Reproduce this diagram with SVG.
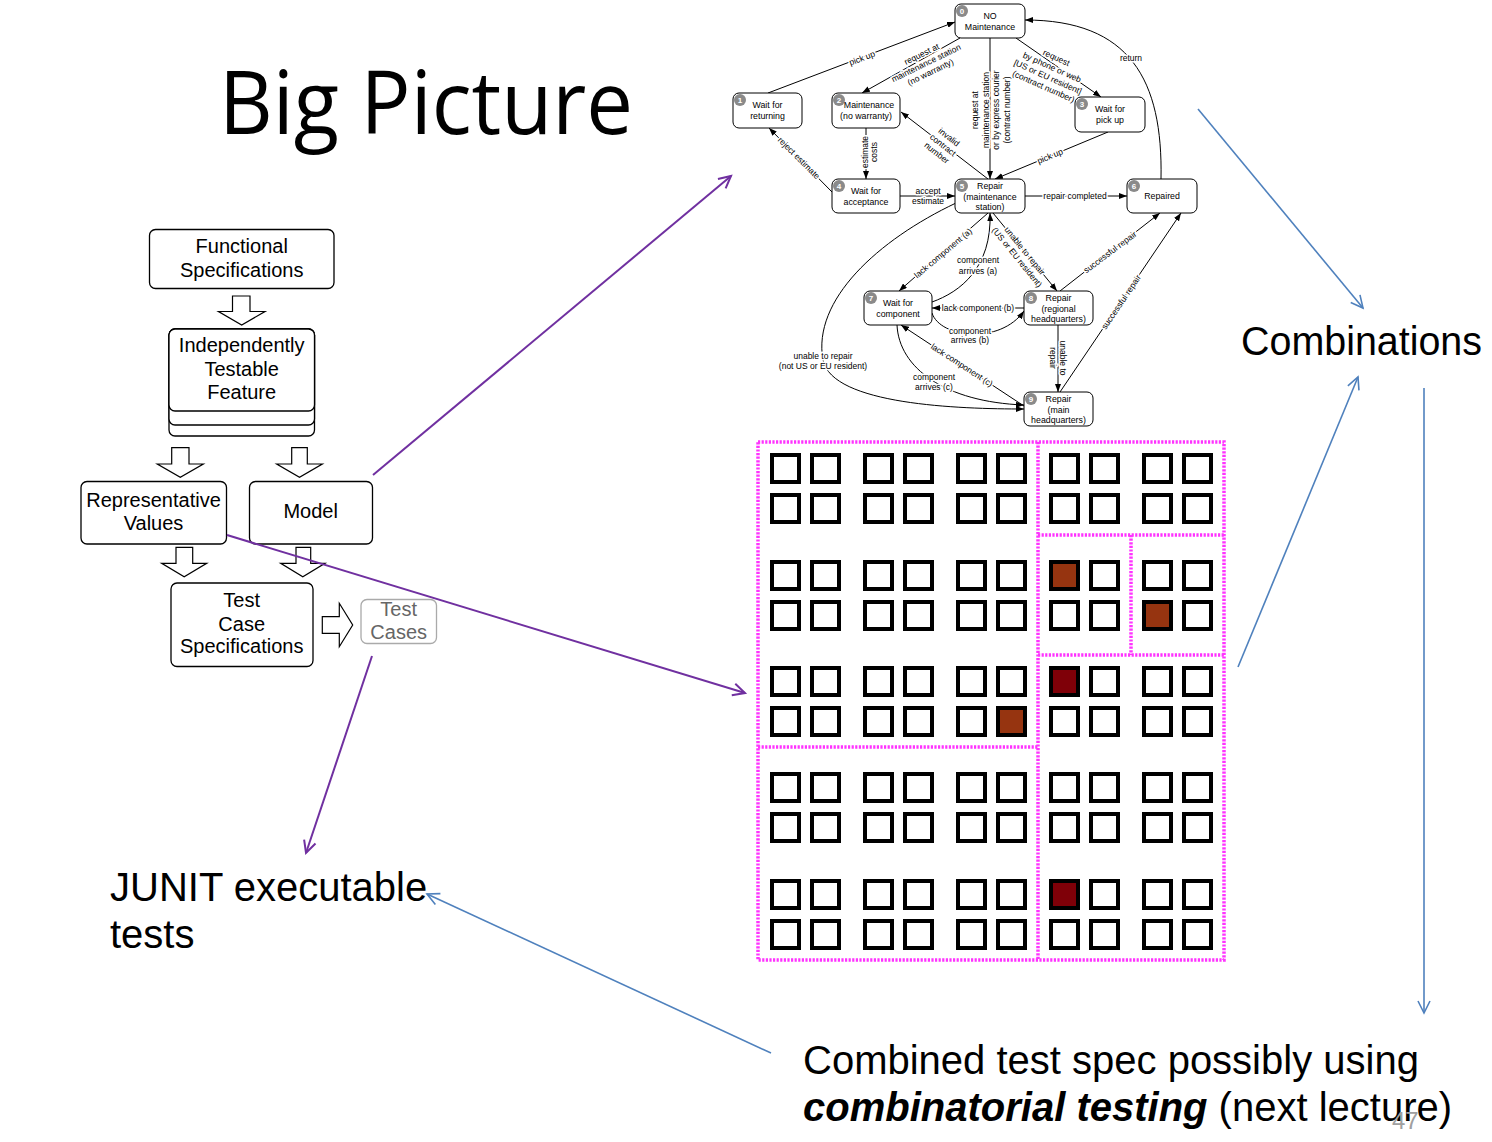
<svg xmlns="http://www.w3.org/2000/svg" width="1492" height="1142" viewBox="0 0 1492 1142">
<style>
.sb{fill:#fff;stroke:#000;stroke-width:1}
.st{font-family:"Liberation Sans",Arial,sans-serif;font-size:8.8px;text-anchor:middle;fill:#000}
.nc{fill:#8a8a8a}
.nn{font-family:"Liberation Sans",Arial,sans-serif;font-size:8px;font-weight:bold;text-anchor:middle;fill:#fff}
.lbl{font-family:"Liberation Sans",Arial,sans-serif;font-size:8.5px;text-anchor:middle;fill:#000;stroke:#fff;stroke-width:3px;paint-order:stroke;stroke-linejoin:round}
.e{fill:none;stroke:#000;stroke-width:1;marker-end:url(#ah)}
.fb{fill:#fff;stroke:#000;stroke-width:1.3}
.ft{font-family:"Liberation Sans",Arial,sans-serif;font-size:20px;text-anchor:middle;fill:#000}
.ba{fill:#fff;stroke:#000;stroke-width:1.2}
.dot{fill:none;stroke:#f3f;stroke-width:3.5;stroke-dasharray:2.2 1.4}
.pu{stroke:#7030A0;stroke-width:2;fill:none;marker-end:url(#ap)}
.bl{stroke:#4F81BD;stroke-width:1.6;fill:none;marker-end:url(#ab)}
.big{font-family:"Liberation Sans",Arial,sans-serif;font-size:40px;fill:#000}
</style>
<defs>
<marker id="ah" viewBox="0 0 8 6" refX="8" refY="3" markerWidth="8" markerHeight="6" markerUnits="userSpaceOnUse" orient="auto"><path d="M0,0 L8,3 L0,6 Z" fill="#000"/></marker>
<marker id="ap" viewBox="-14 -8 16 16" refX="0" refY="0" markerWidth="16" markerHeight="16" markerUnits="userSpaceOnUse" orient="auto" overflow="visible"><path d="M-12,-6 L0,0 L-12,6" fill="none" stroke="#7030A0" stroke-width="2"/></marker>
<marker id="ab" viewBox="-14 -8 16 16" refX="0" refY="0" markerWidth="16" markerHeight="16" markerUnits="userSpaceOnUse" orient="auto" overflow="visible"><path d="M-12,-6 L0,0 L-12,6" fill="none" stroke="#4F81BD" stroke-width="1.6"/></marker>
<rect id="sq" width="27" height="27" stroke="#000" stroke-width="4"/>
</defs>
<rect width="1492" height="1142" fill="#fff"/>

<text x="219" y="134" font-family="Open Sans, sans-serif" font-size="87" textLength="414" lengthAdjust="spacingAndGlyphs" fill="#000">Big Picture</text>

<!-- Left flowchart -->
<g id="functional-spec"><rect class="fb" x="149.5" y="229.5" width="184.5" height="59" rx="6"/><text class="ft" x="241.7" y="253">Functional</text><text class="ft" x="241.7" y="276.5">Specifications</text></g>
<g id="arrow-fs"><path class="ba" d="M232.5,296 H250 V311.5 H265 L241.7,325 L218.5,311.5 H232.5 Z"/></g>
<g id="itf"><rect class="fb" x="169" y="329" width="145.5" height="107" rx="6"/><rect class="fb" x="169" y="329" width="145.5" height="96" rx="6"/><rect class="fb" x="169" y="329" width="145.5" height="82" rx="6"/><text class="ft" x="241.7" y="352.3">Independently</text><text class="ft" x="241.7" y="375.7">Testable</text><text class="ft" x="241.7" y="399">Feature</text></g>
<g id="arrow-itf-rv"><path class="ba" d="M171.7,447.7 H189 V464 H203.3 L180.3,477.3 L157.3,464 H171.7 Z"/></g>
<g id="arrow-itf-model"><path class="ba" d="M291.7,447.7 H307.3 V464 H322.3 L299.5,477.3 L276.7,464 H291.7 Z"/></g>
<g id="rep-values"><rect class="fb" x="81" y="481.5" width="145.5" height="62.5" rx="6"/><text class="ft" x="153.5" y="507.3">Representative</text><text class="ft" x="153.5" y="530">Values</text></g>
<g id="model"><rect class="fb" x="249.5" y="481.5" width="123" height="62.5" rx="6"/><text class="ft" x="310.7" y="518.3">Model</text></g>
<g id="arrow-rv-tcs"><path class="ba" d="M176,547.3 H192.7 V563.3 H206.7 L184.2,576.7 L161.7,563.3 H176 Z"/></g>
<g id="arrow-model-tcs"><path class="ba" d="M296,547.3 H310.7 V563.3 H325 L302.8,576.7 L280.7,563.3 H296 Z"/></g>
<g id="tcs"><rect class="fb" x="171" y="583" width="142" height="83.5" rx="6"/><text class="ft" x="241.7" y="607.3">Test</text><text class="ft" x="241.7" y="630.7">Case</text><text class="ft" x="241.7" y="653.3">Specifications</text></g>
<g id="arrow-tcs-tc"><path class="ba" d="M322.3,616.7 H339.3 V603.3 L352.7,625 L339.3,646.7 V633.3 H322.3 Z"/></g>
<g id="test-cases"><rect x="361" y="599.5" width="75.5" height="44" rx="6" fill="#fff" stroke="#aaa" stroke-width="1.3"/><text class="ft" x="398.7" y="615.7" style="fill:#666">Test</text><text class="ft" x="398.7" y="639" style="fill:#666">Cases</text></g>

<!-- State machine connectors -->
<g id="sm-edges">
<path class="e" d="M768,93 L955,22"/>
<path class="e" d="M960,38 L862,93"/>
<path class="e" d="M990,38 L990,179"/>
<path class="e" d="M1016,38 L1101,97"/>
<path class="e" d="M1161,179 C1163,80 1130,20 1025,20"/>
<path class="e" d="M1108,132 L995,179"/>
<path class="e" d="M988,179 L901,112"/>
<path class="e" d="M866,128 L866,179"/>
<path class="e" d="M832,192 L769,128"/>
<path class="e" d="M900,196 L955,196"/>
<path class="e" d="M1025,196 L1127,196"/>
<path class="e" d="M988,213 L899,291"/>
<path class="e" d="M932,302 C960,292 992,268 990,213"/>
<path class="e" d="M993,213 L1057,291"/>
<path class="e" d="M1024,308 L932,308"/>
<path class="e" d="M932,313 C940,338 1000,345 1024,311"/>
<path class="e" d="M1060,291 L1160,213"/>
<path class="e" d="M1058,325 L1058,392"/>
<path class="e" d="M1060,392 L1181,213"/>
<path class="e" d="M1024,406 L901,325"/>
<path class="e" d="M897,325 C899,368 945,402 1024,405"/>
<path class="e" d="M956,203 C878,240 812,300 823,360 C832,405 960,409 1024,409"/>

<text class="lbl" transform="translate(862,58) rotate(-20.7)" y="3">pick up</text>
<text class="lbl" transform="translate(926,63) rotate(-26)"><tspan x="0" y="-7">request at</tspan><tspan x="0" y="3">maintenance station</tspan><tspan x="0" y="13">(no warranty)</tspan></text>
<text class="lbl" transform="translate(991,110) rotate(-90)"><tspan x="0" y="-12.75">request at</tspan><tspan x="0" y="-2.25">maintenance station</tspan><tspan x="0" y="8.25">or by express courier</tspan><tspan x="0" y="18.75">(contract number)</tspan></text>
<text class="lbl" transform="translate(1050,72) rotate(24)"><tspan x="0" y="-12.75">request</tspan><tspan x="0" y="-2.25">by phone or web</tspan><tspan x="0" y="8.25">[US or EU resident]</tspan><tspan x="0" y="18.75">(contract number)</tspan></text>
<text class="lbl" x="1131" y="61">return</text>
<text class="lbl" transform="translate(1050,156) rotate(-22.6)" y="3">pick up</text>
<text class="lbl" transform="translate(943,145) rotate(38)"><tspan x="0" y="-7">invalid</tspan><tspan x="0" y="3">contract</tspan><tspan x="0" y="13">number</tspan></text>
<text class="lbl" transform="translate(869,152) rotate(-90)"><tspan x="0" y="-1.5">estimate</tspan><tspan x="0" y="7.5">costs</tspan></text>
<text class="lbl" transform="translate(799,158) rotate(45)" y="3">reject estimate</text>
<text class="lbl"><tspan x="928" y="194">accept</tspan><tspan x="928" y="204">estimate</tspan></text>
<text class="lbl" x="1075" y="199">repair completed</text>
<text class="lbl" transform="translate(943,253) rotate(-40)" y="3">lack component (a)</text>
<text class="lbl"><tspan x="978" y="263">component</tspan><tspan x="978" y="274">arrives (a)</tspan></text>
<text class="lbl" transform="translate(1021,254) rotate(51)"><tspan x="0" y="-2">unable to repair</tspan><tspan x="0" y="8">(US or EU resident)</tspan></text>
<text class="lbl" x="978" y="311">lack component (b)</text>
<text class="lbl"><tspan x="970" y="334">component</tspan><tspan x="970" y="343">arrives (b)</tspan></text>
<text class="lbl" transform="translate(1110,252) rotate(-37)" y="3">successful repair</text>
<text class="lbl" transform="translate(1058,358) rotate(90)"><tspan x="0" y="-2">unable to</tspan><tspan x="0" y="8">repair</tspan></text>
<text class="lbl" transform="translate(1121,302) rotate(-56)" y="3">successful repair</text>
<text class="lbl" transform="translate(962,365) rotate(33)" y="3">lack component (c)</text>
<text class="lbl"><tspan x="934" y="380">component</tspan><tspan x="934" y="390">arrives (c)</tspan></text>
<text class="lbl"><tspan x="823" y="359">unable to repair</tspan><tspan x="823" y="369">(not US or EU resident)</tspan></text>
</g>

<!-- State machine nodes -->
<g id="s0"><rect class="sb" x="955" y="4" width="70" height="34" rx="6"/><circle class="nc" cx="962" cy="11" r="6"/><text class="nn" x="962" y="14">0</text><text class="st" x="990" y="18.5">NO</text><text class="st" x="990" y="29.5">Maintenance</text></g>
<g id="s1"><rect class="sb" x="733" y="93" width="69" height="35" rx="6"/><circle class="nc" cx="740" cy="100" r="6"/><text class="nn" x="740" y="103">1</text><text class="st" x="767.5" y="108">Wait for</text><text class="st" x="767.5" y="119">returning</text></g>
<g id="s2"><rect class="sb" x="832" y="93" width="68" height="35" rx="6"/><circle class="nc" cx="839" cy="100" r="6"/><text class="nn" x="839" y="103">2</text><text class="st" x="869" y="108">Maintenance</text><text class="st" x="866" y="119">(no warranty)</text></g>
<g id="s3"><rect class="sb" x="1075" y="97" width="70" height="35" rx="6"/><circle class="nc" cx="1082" cy="104" r="6"/><text class="nn" x="1082" y="107">3</text><text class="st" x="1110" y="112">Wait for</text><text class="st" x="1110" y="123">pick up</text></g>
<g id="s4"><rect class="sb" x="832" y="179" width="68" height="34" rx="6"/><circle class="nc" cx="839" cy="186" r="6"/><text class="nn" x="839" y="189">4</text><text class="st" x="866" y="194">Wait for</text><text class="st" x="866" y="205">acceptance</text></g>
<g id="s5"><rect class="sb" x="955" y="179" width="70" height="34" rx="6"/><circle class="nc" cx="962" cy="186" r="6"/><text class="nn" x="962" y="189">5</text><text class="st" x="990" y="189">Repair</text><text class="st" x="990" y="199.5">(maintenance</text><text class="st" x="990" y="210">station)</text></g>
<g id="s6"><rect class="sb" x="1127" y="179" width="70" height="34" rx="6"/><circle class="nc" cx="1134" cy="186" r="6"/><text class="nn" x="1134" y="189">6</text><text class="st" x="1162" y="199">Repaired</text></g>
<g id="s7"><rect class="sb" x="864" y="291" width="68" height="34" rx="6"/><circle class="nc" cx="871" cy="298" r="6"/><text class="nn" x="871" y="301">7</text><text class="st" x="898" y="306">Wait for</text><text class="st" x="898" y="317">component</text></g>
<g id="s8"><rect class="sb" x="1024" y="291" width="69" height="34" rx="6"/><circle class="nc" cx="1031" cy="298" r="6"/><text class="nn" x="1031" y="301">8</text><text class="st" x="1058.5" y="301">Repair</text><text class="st" x="1058.5" y="311.5">(regional</text><text class="st" x="1058.5" y="322">headquarters)</text></g>
<g id="s9"><rect class="sb" x="1024" y="392" width="69" height="34" rx="6"/><circle class="nc" cx="1031" cy="399" r="6"/><text class="nn" x="1031" y="402">9</text><text class="st" x="1058.5" y="402">Repair</text><text class="st" x="1058.5" y="412.5">(main</text><text class="st" x="1058.5" y="423">headquarters)</text></g>

<!-- Combination grid -->
<g id="grid">
<path class="dot" d="M758,442 H1224 V960 H758 Z"/>
<path class="dot" d="M1038,442 V960 M1038,535 H1224 M1131,535 V655 M1038,655 H1224 M758,747 H1038"/>
<g fill="#fff">
<use href="#sq" x="772" y="455"/><use href="#sq" x="812" y="455"/><use href="#sq" x="865" y="455"/><use href="#sq" x="905" y="455"/><use href="#sq" x="958" y="455"/><use href="#sq" x="998" y="455"/><use href="#sq" x="1051" y="455"/><use href="#sq" x="1091" y="455"/><use href="#sq" x="1144" y="455"/><use href="#sq" x="1184" y="455"/>
<use href="#sq" x="772" y="495"/><use href="#sq" x="812" y="495"/><use href="#sq" x="865" y="495"/><use href="#sq" x="905" y="495"/><use href="#sq" x="958" y="495"/><use href="#sq" x="998" y="495"/><use href="#sq" x="1051" y="495"/><use href="#sq" x="1091" y="495"/><use href="#sq" x="1144" y="495"/><use href="#sq" x="1184" y="495"/>
<use href="#sq" x="772" y="562"/><use href="#sq" x="812" y="562"/><use href="#sq" x="865" y="562"/><use href="#sq" x="905" y="562"/><use href="#sq" x="958" y="562"/><use href="#sq" x="998" y="562"/><use href="#sq" x="1051" y="562" fill="#963410"/><use href="#sq" x="1091" y="562"/><use href="#sq" x="1144" y="562"/><use href="#sq" x="1184" y="562"/>
<use href="#sq" x="772" y="602"/><use href="#sq" x="812" y="602"/><use href="#sq" x="865" y="602"/><use href="#sq" x="905" y="602"/><use href="#sq" x="958" y="602"/><use href="#sq" x="998" y="602"/><use href="#sq" x="1051" y="602"/><use href="#sq" x="1091" y="602"/><use href="#sq" x="1144" y="602" fill="#963410"/><use href="#sq" x="1184" y="602"/>
<use href="#sq" x="772" y="668"/><use href="#sq" x="812" y="668"/><use href="#sq" x="865" y="668"/><use href="#sq" x="905" y="668"/><use href="#sq" x="958" y="668"/><use href="#sq" x="998" y="668"/><use href="#sq" x="1051" y="668" fill="#7f0008"/><use href="#sq" x="1091" y="668"/><use href="#sq" x="1144" y="668"/><use href="#sq" x="1184" y="668"/>
<use href="#sq" x="772" y="708"/><use href="#sq" x="812" y="708"/><use href="#sq" x="865" y="708"/><use href="#sq" x="905" y="708"/><use href="#sq" x="958" y="708"/><use href="#sq" x="998" y="708" fill="#963410"/><use href="#sq" x="1051" y="708"/><use href="#sq" x="1091" y="708"/><use href="#sq" x="1144" y="708"/><use href="#sq" x="1184" y="708"/>
<use href="#sq" x="772" y="774"/><use href="#sq" x="812" y="774"/><use href="#sq" x="865" y="774"/><use href="#sq" x="905" y="774"/><use href="#sq" x="958" y="774"/><use href="#sq" x="998" y="774"/><use href="#sq" x="1051" y="774"/><use href="#sq" x="1091" y="774"/><use href="#sq" x="1144" y="774"/><use href="#sq" x="1184" y="774"/>
<use href="#sq" x="772" y="814"/><use href="#sq" x="812" y="814"/><use href="#sq" x="865" y="814"/><use href="#sq" x="905" y="814"/><use href="#sq" x="958" y="814"/><use href="#sq" x="998" y="814"/><use href="#sq" x="1051" y="814"/><use href="#sq" x="1091" y="814"/><use href="#sq" x="1144" y="814"/><use href="#sq" x="1184" y="814"/>
<use href="#sq" x="772" y="881"/><use href="#sq" x="812" y="881"/><use href="#sq" x="865" y="881"/><use href="#sq" x="905" y="881"/><use href="#sq" x="958" y="881"/><use href="#sq" x="998" y="881"/><use href="#sq" x="1051" y="881" fill="#7f0008"/><use href="#sq" x="1091" y="881"/><use href="#sq" x="1144" y="881"/><use href="#sq" x="1184" y="881"/>
<use href="#sq" x="772" y="921"/><use href="#sq" x="812" y="921"/><use href="#sq" x="865" y="921"/><use href="#sq" x="905" y="921"/><use href="#sq" x="958" y="921"/><use href="#sq" x="998" y="921"/><use href="#sq" x="1051" y="921"/><use href="#sq" x="1091" y="921"/><use href="#sq" x="1144" y="921"/><use href="#sq" x="1184" y="921"/>
</g>
</g>

<!-- Labels -->
<g id="combinations"><text class="big" x="1241" y="355" font-size="41" textLength="241" lengthAdjust="spacingAndGlyphs">Combinations</text></g>
<g id="junit"><text class="big" x="110" y="901">JUNIT executable</text><text class="big" x="110" y="948">tests</text></g>
<g id="combined"><text class="big" x="803" y="1074">Combined test spec possibly using</text><text class="big" x="803" y="1121"><tspan font-weight="bold" font-style="italic">combinatorial testing</tspan> (next lecture)</text></g>
<text x="1392" y="1129" font-family="Liberation Sans, Arial, sans-serif" font-size="24" fill="#a0a0a0">47</text>

<!-- Overview connectors -->
<g id="connectors">
<path class="pu" d="M373,475 L731,176"/>
<path class="pu" d="M227,535 L745,693"/>
<path class="pu" d="M372,656 L306,853"/>
<path class="bl" d="M1198,109 L1363,308"/>
<path class="bl" d="M1238,667 L1358,377"/>
<path class="bl" d="M1424,388 L1424,1013"/>
<path class="bl" d="M771,1053 L427,894"/>
</g>
</svg>
